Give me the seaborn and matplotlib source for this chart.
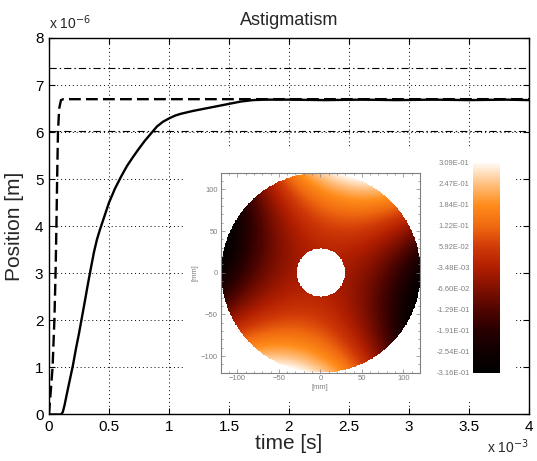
import numpy as np
import pandas as pd
import matplotlib
matplotlib.use("Agg")
import matplotlib.pyplot as plt
from matplotlib.colors import LinearSegmentedColormap
from matplotlib.patches import Rectangle
import seaborn as sns

# Measured mirror response (time in ms, position in um)
resp_t = [0.0, 0.10, 0.115, 0.13, 0.15, 0.175, 0.20, 0.225, 0.25, 0.275, 0.30,
          0.325, 0.35, 0.375, 0.40, 0.425, 0.45, 0.50, 0.55, 0.60, 0.65, 0.70,
          0.75, 0.80, 0.85, 0.90, 0.95, 1.00, 1.05, 1.10, 1.20, 1.30, 1.40,
          1.50, 1.60, 1.70, 1.80, 2.00, 2.30, 2.60, 2.90, 3.20, 3.50, 3.80, 4.00]
resp_y = [0.0, 0.0, 0.05, 0.2, 0.45, 0.75, 1.05, 1.4, 1.72, 2.07, 2.42,
          2.78, 3.12, 3.45, 3.72, 3.93, 4.12, 4.5, 4.8, 5.05, 5.28, 5.47,
          5.65, 5.82, 5.97, 6.12, 6.22, 6.29, 6.35, 6.39, 6.45, 6.50, 6.55,
          6.60, 6.65, 6.68, 6.69, 6.69, 6.68, 6.69, 6.68, 6.69, 6.68, 6.69, 6.68]

# Commanded reference step
ref_t = [0.0, 0.03, 0.045, 0.055, 0.062, 0.068, 0.075, 0.085, 0.10, 0.12, 4.0]
ref_y = [0.0, 1.0, 2.0, 3.0, 4.0, 5.0, 6.0, 6.5, 6.68, 6.70, 6.70]

# +/-10 % tolerance band around the target
band_upper = 7.37
band_lower = 6.03

x_ticks = [0, 0.5, 1, 1.5, 2, 2.5, 3, 3.5, 4]
y_ticks = [0, 1, 2, 3, 4, 5, 6, 7, 8]

# Astigmatism map parameters
z_min = -0.3164
z_max = 0.3094
axis_angle_deg = 75.0
outer_radius = 120.0
inner_radius = 29.0
map_ticks = [-100, -50, 0, 50, 100]
cbar_labels = ["-3.16E-01", "-2.54E-01", "-1.91E-01", "-1.29E-01", "-6.60E-02",
               "-3.48E-03", "5.92E-02", "1.22E-01", "1.84E-01", "2.47E-01",
               "3.09E-01"]

sns.set_theme(style="ticks")
plt.rcParams["font.family"] = ["Liberation Sans", "DejaVu Sans"]

fig = plt.figure(figsize=(5.37, 4.61), dpi=100)
ax = fig.add_axes([0.0912, 0.1009, 0.8938, 0.8167])
ax.set_zorder(0)

resp = pd.DataFrame({"t": resp_t, "y": resp_y})
ref = pd.DataFrame({"t": ref_t, "y": ref_y})

for lvl in (band_upper, band_lower):
    ax.axhline(lvl, color="black", lw=0.8, dashes=(6.5, 2.7, 1.3, 2.7), zorder=2)

sns.lineplot(data=ref, x="t", y="y", ax=ax, color="black", lw=1.7,
             estimator=None, sort=False, zorder=3).lines[-1].set_dashes((5, 2.2))
sns.lineplot(data=resp, x="t", y="y", ax=ax, color="black", lw=1.7,
             estimator=None, sort=False, zorder=4)

ax.set_xlim(0, 4)
ax.set_ylim(0, 8)
ax.set_xticks(x_ticks)
ax.set_xticklabels([f"{v:g}" for v in x_ticks])
ax.set_yticks(y_ticks)
ax.set_yticklabels([f"{v:g}" for v in y_ticks])
ax.grid(True, color="black", lw=0.7, linestyle=(0, (1, 3)))
ax.tick_params(direction="in", length=4, width=0.8, top=True, right=True,
               labelsize=11, colors="black", pad=4)
for s in ax.spines.values():
    s.set_color("black")
    s.set_linewidth(1.0)

ax.set_title("Astigmatism", fontsize=13, pad=9)
ax.set_xlabel("time [s]", fontsize=15, labelpad=0)
ax.set_ylabel("Position [m]", fontsize=15, labelpad=8)
ax.text(0.0, 1.015, r"x 10$^{-6}$", transform=ax.transAxes, fontsize=10,
        ha="left", va="bottom")
ax.text(1.0, -0.062, r"x 10$^{-3}$", transform=ax.transAxes, fontsize=10,
        ha="right", va="top")

# White backing panel for the surface-map inset
fig.patches.append(Rectangle((0.3408, 0.128), 0.6164, 0.551,
                             transform=fig.transFigure, facecolor="white",
                             edgecolor="none", zorder=0.5))

# Astigmatism surface on the annular aperture
n = 320
g = np.linspace(-outer_radius, outer_radius, n)
X, Y = np.meshgrid(g, g)
R = np.hypot(X, Y)
TH = np.arctan2(Y, X)
amp = (z_max - z_min) / 2
mid = (z_max + z_min) / 2
Z = mid + amp * (R / outer_radius) ** 2 * np.cos(2 * (TH - np.deg2rad(axis_angle_deg)))
Z = np.ma.masked_where((R > outer_radius) | (R < inner_radius), Z)

heat = LinearSegmentedColormap.from_list("heat", [
    (0.0, "#000000"), (0.1, "#100000"), (0.2, "#280000"), (0.3, "#500500"),
    (0.4, "#801000"), (0.5, "#b01e00"), (0.6, "#d03a08"), (0.7, "#f06a10"),
    (0.8, "#ff8c1a"), (0.9, "#ffc080"), (1.0, "#fffaf5")])
heat.set_bad("white")

grey = "#808080"
iax = fig.add_axes([0.411, 0.1915, 0.371, 0.4339])
iax.set_zorder(1)
im = iax.imshow(Z, cmap=heat, vmin=z_min, vmax=z_max, origin="lower",
                extent=[-outer_radius, outer_radius, -outer_radius, outer_radius],
                aspect="auto", interpolation="nearest")
iax.set_xlim(-outer_radius, outer_radius)
iax.set_ylim(-outer_radius, outer_radius)
iax.set_xticks(map_ticks)
iax.set_yticks(map_ticks)
iax.set_xticks(np.arange(-120, 121, 10), minor=True)
iax.set_yticks(np.arange(-120, 121, 10), minor=True)
iax.tick_params(which="both", direction="in", top=True, right=True,
                labelsize=5.5, colors=grey, width=0.5, pad=2)
iax.tick_params(which="major", length=3)
iax.tick_params(which="minor", length=1.5)
for s in iax.spines.values():
    s.set_color(grey)
    s.set_linewidth(0.8)
iax.set_xlabel("[mm]", fontsize=5.5, color=grey, labelpad=1)
iax.set_ylabel("[mm]", fontsize=5.5, color=grey, labelpad=2)

cax = fig.add_axes([0.880, 0.1915, 0.052, 0.4556])
cax.set_zorder(1)
cb = fig.colorbar(im, cax=cax, ticks=np.linspace(z_min, z_max, len(cbar_labels)))
cb.outline.set_visible(False)
cax.yaxis.set_ticks_position("left")
cax.set_yticklabels(cbar_labels)
cax.tick_params(length=0, labelsize=5.5, colors=grey, pad=2)

fig.savefig("out.png", dpi=100)
